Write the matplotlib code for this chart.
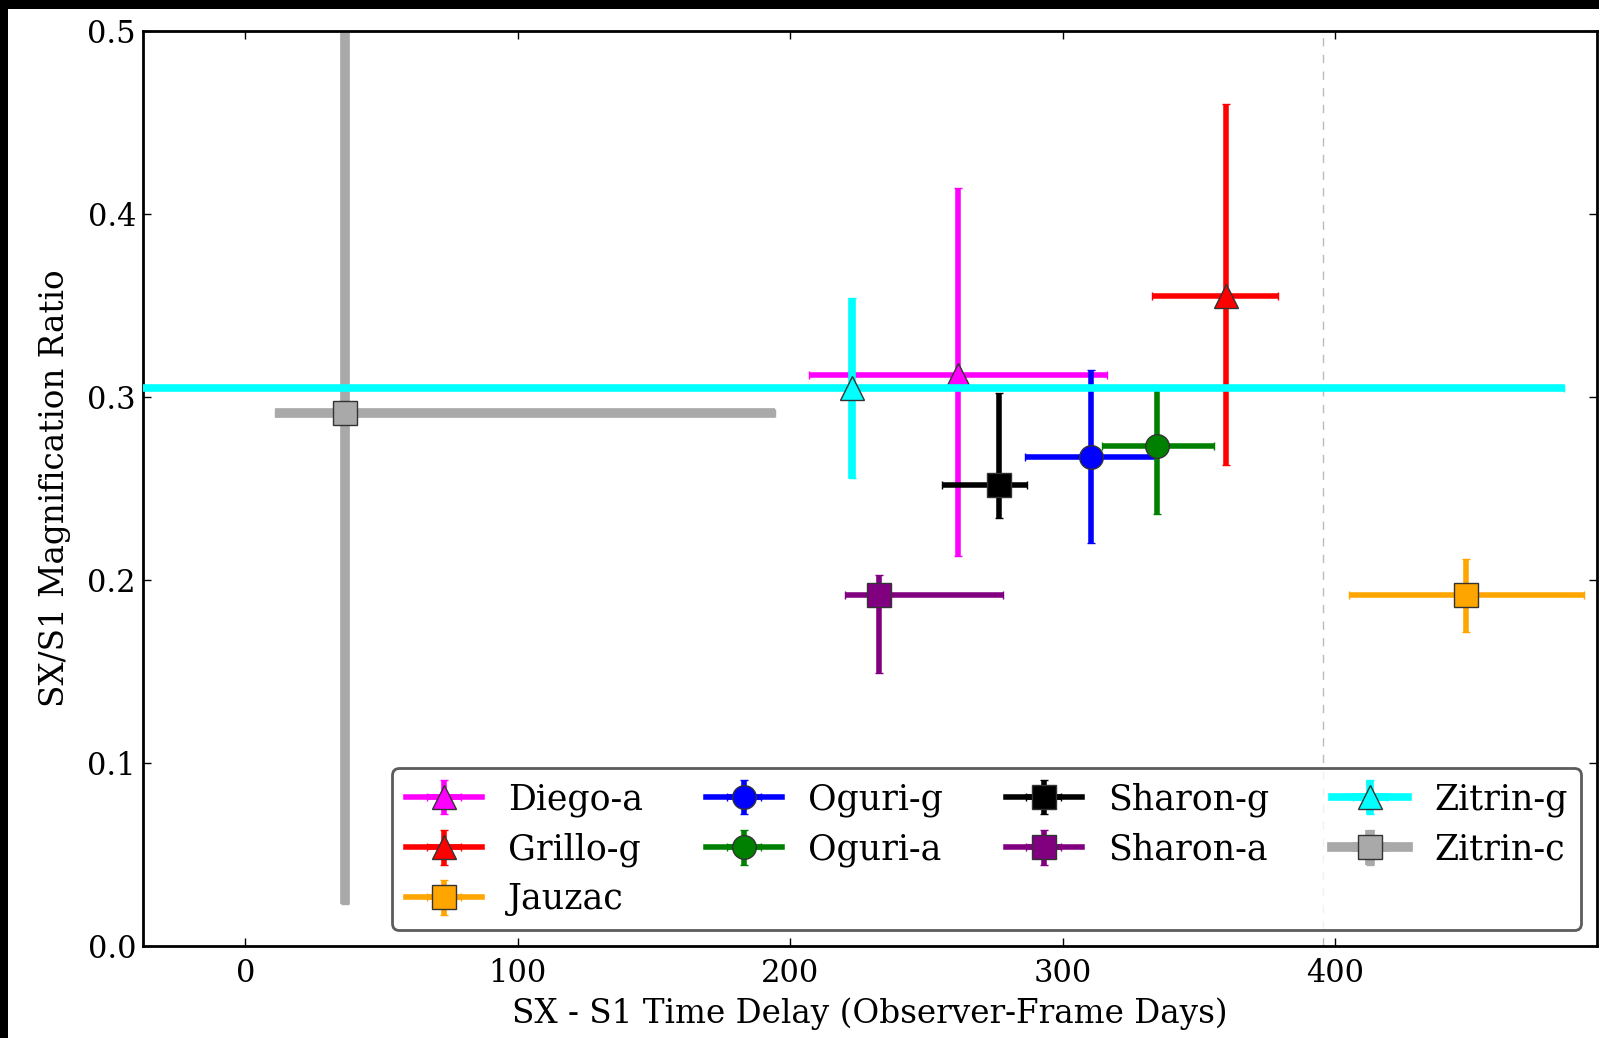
import matplotlib
matplotlib.use("Agg")
import matplotlib.pyplot as plt
from matplotlib.patches import Rectangle

plt.rcParams['font.family'] = ['DejaVu Serif']
plt.rcParams['mathtext.fontset'] = 'dejavuserif'

# ---- data ----
labels = ["Diego-a", "Grillo-g", "Jauzac", "Oguri-g", "Oguri-a",
          "Sharon-g", "Sharon-a", "Zitrin-g", "Zitrin-c"]
colors = ["magenta", "red", "orange", "blue", "green",
          "black", "purple", "cyan", "darkgray"]
markers = ["^", "^", "s", "o", "o", "s", "s", "^", "s"]

delay = [261.4, 359.9, 447.9, 310.5, 334.5, 276.4, 232.6, 222.8, 36.7]
delay_lo = [54.7, 27.0, 43.0, 24.4, 20.3, 20.6, 12.7, 261.0, 25.8]
delay_hi = [54.7, 19.0, 43.5, 23.2, 20.9, 10.5, 45.3, 261.0, 157.7]

ratio = [0.312, 0.355, 0.192, 0.267, 0.273, 0.252, 0.192, 0.305, 0.291]
ratio_lo = [0.099, 0.092, 0.0205, 0.047, 0.037, 0.018, 0.043, 0.049, 0.268]
ratio_hi = [0.102, 0.105, 0.0195, 0.048, 0.033, 0.050, 0.011, 0.049, 0.300]

line_w = [4.0, 4.0, 4.0, 4.0, 4.0, 4.0, 4.0, 5.5, 7.0]
z_order = [3, 3, 3, 3, 3, 3, 3, 6, 2]

seam_x = 395.6  # faint dashed splice line in the original image

x_ticks = [0, 100, 200, 300, 400]
y_ticks = [0.0, 0.1, 0.2, 0.3, 0.4, 0.5]

# ---- figure ----
W, H = 1599, 1038
fig = plt.figure(figsize=(W / 100, H / 100), dpi=100, facecolor="white")
ax = fig.add_axes([143 / W, 1 - 946 / H, (1597 - 143) / W, (946 - 31) / H])

handles = {}
for i, lab in enumerate(labels):
    c = ax.errorbar(delay[i], ratio[i],
                    xerr=[[delay_lo[i]], [delay_hi[i]]],
                    yerr=[[ratio_lo[i]], [ratio_hi[i]]],
                    fmt=markers[i] + "-", lw=line_w[i],
                    color=colors[i], ecolor=colors[i],
                    mfc=colors[i], mec="#333333", mew=1.0, ms=17,
                    elinewidth=line_w[i], capsize=3, capthick=1.5,
                    zorder=z_order[i], label=lab)
    handles[lab] = c

ax.axvline(seam_x, color="#bbbbbb", lw=1.0, ls=(0, (6, 6)), zorder=1)

ax.set_xlim(-37.5, 496)
ax.set_ylim(0.0, 0.5)
ax.set_xticks(x_ticks)
ax.set_yticks(y_ticks)
ax.set_yticklabels([f"{v:.1f}" for v in y_ticks])
ax.tick_params(direction="in", top=True, right=True, length=6, width=1,
               labelsize=22)
ax.tick_params(axis="x", pad=9)
ax.tick_params(axis="y", pad=5)
for s in ax.spines.values():
    s.set_linewidth(2.0)

ax.set_xlabel("SX - S1 Time Delay (Observer-Frame Days)", fontsize=23.5, labelpad=6)
ax.set_ylabel("SX/S1 Magnification Ratio", fontsize=23.5, labelpad=12)

leg = ax.legend([handles[l] for l in labels], labels, loc="lower right",
                ncol=4, fontsize=25, frameon=True, fancybox=True,
                handlelength=2.2, columnspacing=1.8, borderaxespad=0.45,
                labelspacing=0.45, handletextpad=0.75, borderpad=0.4)
leg.get_frame().set_edgecolor("#333333")
leg.get_frame().set_linewidth(2.0)
leg.set_zorder(10)

# black strips along the top and left edge of the original screenshot
fig.patches.append(Rectangle((0, 1 - 9 / H), 1, 9 / H, transform=fig.transFigure,
                             facecolor="black", edgecolor="none", zorder=20))
fig.patches.append(Rectangle((0, 0), 8 / W, 1, transform=fig.transFigure,
                             facecolor="black", edgecolor="none", zorder=20))

fig.savefig("out.png", dpi=100, facecolor="white")
